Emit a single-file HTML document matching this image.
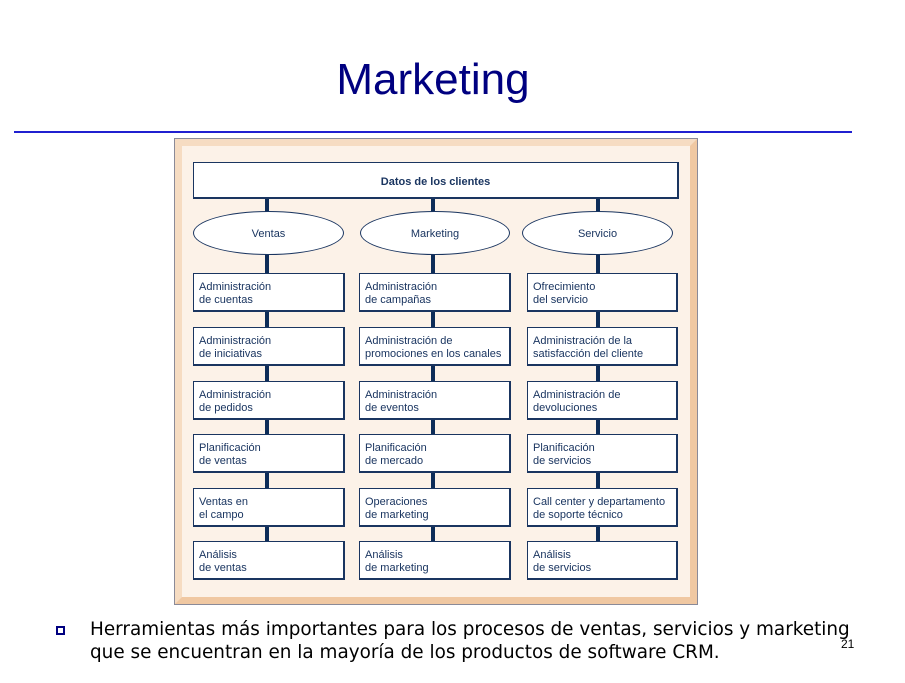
<!DOCTYPE html>
<html><head><meta charset="utf-8"><style>
body{margin:0;width:905px;height:683px;background:#fff;position:relative;overflow:hidden;font-family:"Liberation Sans",sans-serif}
.a{position:absolute}
.title{left:0;width:866px;top:55px;text-align:center;font-size:44px;color:#000080}
.hr{left:14px;top:131px;width:838px;height:2px;background:#2020d0}
.frame{left:175px;top:139px;width:508px;height:451px;border:7px solid #f0c8a2;border-top-color:#f6dcc2;border-left-color:#f6dcc2;background:#fcf2e8;outline:1px solid #8a8a98}
.box{background:#fff;border:1px solid #1a3560;border-right-width:2px;border-bottom-width:2px;font-size:11px;color:#1a3560;line-height:13px;padding:7px 0 0 5px;box-sizing:border-box}
.v{background:#0d2c58;width:4px}
.ell{border:1px solid #1a3560;border-radius:50%;background:#fff;font-size:11px;color:#1a3560;text-align:center;line-height:44px;box-sizing:border-box}
.bul{left:56px;top:626px;width:9px;height:9px;border:2px solid #000080;box-sizing:border-box}
.txt{left:90px;top:618px;font-family:"DejaVu Sans",sans-serif;font-size:18.4px;line-height:23px;color:#000;white-space:nowrap}
</style></head><body>
<div class="a title">Marketing</div>
<div class="a hr"></div>
<div class="a frame"></div>
<div class="a v" style="left:265px;top:198px;height:380px"></div>
<div class="a v" style="left:431px;top:198px;height:380px"></div>
<div class="a v" style="left:596px;top:198px;height:380px"></div>
<div class="a box" style="left:193px;top:162px;width:486px;height:37px;text-align:center;font-weight:bold;padding:13px 0 0 0">Datos de los clientes</div>
<div class="a ell" style="left:193px;top:211px;width:151px;height:44px">Ventas</div>
<div class="a ell" style="left:360px;top:211px;width:150px;height:44px">Marketing</div>
<div class="a ell" style="left:522px;top:211px;width:151px;height:44px">Servicio</div>

<div class="a box" style="left:193px;top:273px;width:152px;height:39px">Administración<br>de cuentas</div>
<div class="a box" style="left:193px;top:327px;width:152px;height:39px">Administración<br>de iniciativas</div>
<div class="a box" style="left:193px;top:381px;width:152px;height:39px">Administración<br>de pedidos</div>
<div class="a box" style="left:193px;top:434px;width:152px;height:39px">Planificación<br>de ventas</div>
<div class="a box" style="left:193px;top:488px;width:152px;height:39px">Ventas en<br>el campo</div>
<div class="a box" style="left:193px;top:541px;width:152px;height:39px">Análisis<br>de ventas</div>

<div class="a box" style="left:359px;top:273px;width:152px;height:39px">Administración<br>de campañas</div>
<div class="a box" style="left:359px;top:327px;width:152px;height:39px">Administración de<br>promociones en los canales</div>
<div class="a box" style="left:359px;top:381px;width:152px;height:39px">Administración<br>de eventos</div>
<div class="a box" style="left:359px;top:434px;width:152px;height:39px">Planificación<br>de mercado</div>
<div class="a box" style="left:359px;top:488px;width:152px;height:39px">Operaciones<br>de marketing</div>
<div class="a box" style="left:359px;top:541px;width:152px;height:39px">Análisis<br>de marketing</div>

<div class="a box" style="left:527px;top:273px;width:151px;height:39px">Ofrecimiento<br>del servicio</div>
<div class="a box" style="left:527px;top:327px;width:151px;height:39px">Administración de la<br>satisfacción del cliente</div>
<div class="a box" style="left:527px;top:381px;width:151px;height:39px">Administración de<br>devoluciones</div>
<div class="a box" style="left:527px;top:434px;width:151px;height:39px">Planificación<br>de servicios</div>
<div class="a box" style="left:527px;top:488px;width:151px;height:39px">Call center y departamento<br>de soporte técnico</div>
<div class="a box" style="left:527px;top:541px;width:151px;height:39px">Análisis<br>de servicios</div>

<div class="a bul"></div>
<div class="a txt">Herramientas más importantes para los procesos de ventas, servicios y marketing<br>que se encuentran en la mayoría de los productos de software CRM.</div>
<div class="a" style="left:841px;top:637px;font-size:12px">21</div>
</body></html>
